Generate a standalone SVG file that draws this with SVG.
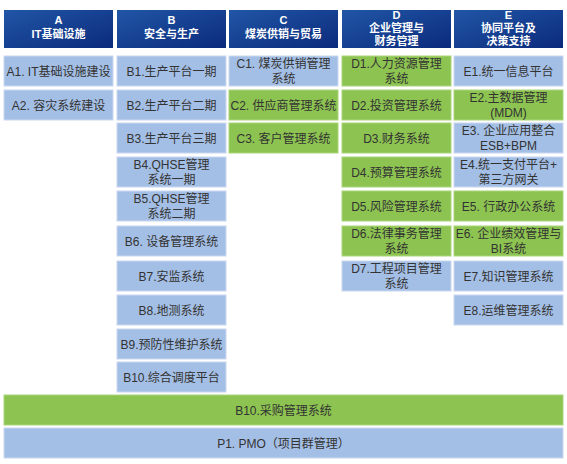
<svg xmlns="http://www.w3.org/2000/svg" width="567" height="464" viewBox="0 0 567 464">
<defs>
<linearGradient id="hg" x1="0" y1="0" x2="1" y2="1">
<stop offset="0" stop-color="#2156a6"/>
<stop offset="1" stop-color="#0b2a7c"/>
</linearGradient>
<style>
.h{fill:url(#hg);}
.b{fill:#a4bfe5;stroke:#c9d8ef;stroke-width:1;}
.g{fill:#8dc451;stroke:#a9d47a;stroke-width:1;}
.ht{fill:#ffffff;font-family:"Liberation Sans","Noto Sans CJK SC",sans-serif;font-size:11px;font-weight:bold;text-anchor:middle;}
.t{fill:#333333;font-family:"Liberation Sans","Noto Sans CJK SC",sans-serif;font-size:12px;text-anchor:middle;}
</style>
</defs>
<rect width="567" height="464" fill="#ffffff"/>
<g id="headers">
<g id="hA"><rect class="h" x="4" y="10" width="109" height="38"/><text class="ht" x="58.5" y="24">A</text><text class="ht" x="58.5" y="38">IT基础设施</text></g>
<g id="hB"><rect class="h" x="117" y="10" width="109" height="38"/><text class="ht" x="171.5" y="24">B</text><text class="ht" x="171.5" y="38">安全与生产</text></g>
<g id="hC"><rect class="h" x="229" y="10" width="109" height="38"/><text class="ht" x="283.5" y="24">C</text><text class="ht" x="283.5" y="38">煤炭供销与贸易</text></g>
<g id="hD"><rect class="h" x="342" y="10" width="109" height="38"/><text class="ht" x="396.5" y="19">D</text><text class="ht" x="396.5" y="32">企业管理与</text><text class="ht" x="396.5" y="45">财务管理</text></g>
<g id="hE"><rect class="h" x="454" y="10" width="109" height="38"/><text class="ht" x="508.5" y="19">E</text><text class="ht" x="508.5" y="32">协同平台及</text><text class="ht" x="508.5" y="45">决策支持</text></g>
</g>
<g id="colA">
<g id="A1"><rect class="b" x="4" y="56" width="109" height="30"/><text class="t" x="58.5" y="75.5">A1. IT基础设施建设</text></g>
<g id="A2"><rect class="b" x="4" y="90" width="109" height="30"/><text class="t" x="58.5" y="109.5">A2. 容灾系统建设</text></g>
</g>
<g id="colB">
<g id="B1"><rect class="b" x="117" y="56" width="109" height="30"/><text class="t" x="171.5" y="75.5">B1.生产平台一期</text></g>
<g id="B2"><rect class="b" x="117" y="90" width="109" height="30"/><text class="t" x="171.5" y="109.5">B2.生产平台二期</text></g>
<g id="B3"><rect class="b" x="117" y="123" width="109" height="30"/><text class="t" x="171.5" y="142.5">B3.生产平台三期</text></g>
<g id="B4"><rect class="b" x="117" y="157" width="109" height="30"/><text class="t" x="171.5" y="169">B4.QHSE管理</text><text class="t" x="171.5" y="184">系统一期</text></g>
<g id="B5"><rect class="b" x="117" y="191" width="109" height="30"/><text class="t" x="171.5" y="203">B5.QHSE管理</text><text class="t" x="171.5" y="218">系统二期</text></g>
<g id="B6"><rect class="b" x="117" y="226" width="109" height="30"/><text class="t" x="171.5" y="245.5">B6. 设备管理系统</text></g>
<g id="B7"><rect class="b" x="117" y="261" width="109" height="30"/><text class="t" x="171.5" y="280.5">B7.安监系统</text></g>
<g id="B8"><rect class="b" x="117" y="295" width="109" height="30"/><text class="t" x="171.5" y="314.5">B8.地测系统</text></g>
<g id="B9"><rect class="b" x="117" y="329" width="109" height="30"/><text class="t" x="171.5" y="348.5">B9.预防性维护系统</text></g>
<g id="B10"><rect class="b" x="117" y="362" width="109" height="30"/><text class="t" x="171.5" y="381.5">B10.综合调度平台</text></g>
</g>
<g id="colC">
<g id="C1"><rect class="b" x="229" y="56" width="109" height="30"/><text class="t" x="283.5" y="68">C1. 煤炭供销管理</text><text class="t" x="283.5" y="83">系统</text></g>
<g id="C2"><rect class="g" x="229" y="90" width="109" height="30"/><text class="t" x="283.5" y="109.5">C2. 供应商管理系统</text></g>
<g id="C3"><rect class="g" x="229" y="123" width="109" height="30"/><text class="t" x="283.5" y="142.5">C3. 客户管理系统</text></g>
</g>
<g id="colD">
<g id="D1"><rect class="g" x="342" y="56" width="109" height="30"/><text class="t" x="396.5" y="68">D1.人力资源管理</text><text class="t" x="396.5" y="83">系统</text></g>
<g id="D2"><rect class="g" x="342" y="90" width="109" height="30"/><text class="t" x="396.5" y="109.5">D2.投资管理系统</text></g>
<g id="D3"><rect class="g" x="342" y="123" width="109" height="30"/><text class="t" x="396.5" y="142.5">D3.财务系统</text></g>
<g id="D4"><rect class="g" x="342" y="157" width="109" height="30"/><text class="t" x="396.5" y="176.5">D4.预算管理系统</text></g>
<g id="D5"><rect class="g" x="342" y="191" width="109" height="30"/><text class="t" x="396.5" y="210.5">D5.风险管理系统</text></g>
<g id="D6"><rect class="g" x="342" y="226" width="109" height="30"/><text class="t" x="396.5" y="238">D6.法律事务管理</text><text class="t" x="396.5" y="253">系统</text></g>
<g id="D7"><rect class="b" x="342" y="261" width="109" height="30"/><text class="t" x="396.5" y="273">D7.工程项目管理</text><text class="t" x="396.5" y="288">系统</text></g>
</g>
<g id="colE">
<g id="E1"><rect class="b" x="454" y="56" width="109" height="30"/><text class="t" x="508.5" y="75.5">E1.统一信息平台</text></g>
<g id="E2"><rect class="g" x="454" y="90" width="109" height="30"/><text class="t" x="508.5" y="102">E2.主数据管理</text><text class="t" x="508.5" y="117">(MDM)</text></g>
<g id="E3"><rect class="b" x="454" y="123" width="109" height="30"/><text class="t" x="508.5" y="135">E3. 企业应用整合</text><text class="t" x="508.5" y="150">ESB+BPM</text></g>
<g id="E4"><rect class="b" x="454" y="157" width="109" height="30"/><text class="t" x="508.5" y="169">E4.统一支付平台+</text><text class="t" x="508.5" y="184">第三方网关</text></g>
<g id="E5"><rect class="g" x="454" y="191" width="109" height="30"/><text class="t" x="508.5" y="210.5">E5. 行政办公系统</text></g>
<g id="E6"><rect class="g" x="454" y="226" width="109" height="30"/><text class="t" x="508.5" y="238">E6. 企业绩效管理与</text><text class="t" x="508.5" y="253">BI系统</text></g>
<g id="E7"><rect class="b" x="454" y="261" width="109" height="30"/><text class="t" x="508.5" y="280.5">E7.知识管理系统</text></g>
<g id="E8"><rect class="b" x="454" y="295" width="109" height="30"/><text class="t" x="508.5" y="314.5">E8.运维管理系统</text></g>
</g>
<g id="bars">
<g id="procurement"><rect class="g" x="4" y="395" width="559" height="30"/><text class="t" x="283.5" y="414.5">B10.采购管理系统</text></g>
<g id="pmo"><rect class="b" x="4" y="428" width="559" height="30"/><text class="t" x="283.5" y="447.5">P1. PMO（项目群管理）</text></g>
</g>
<g id="connectors"/>
</svg>
